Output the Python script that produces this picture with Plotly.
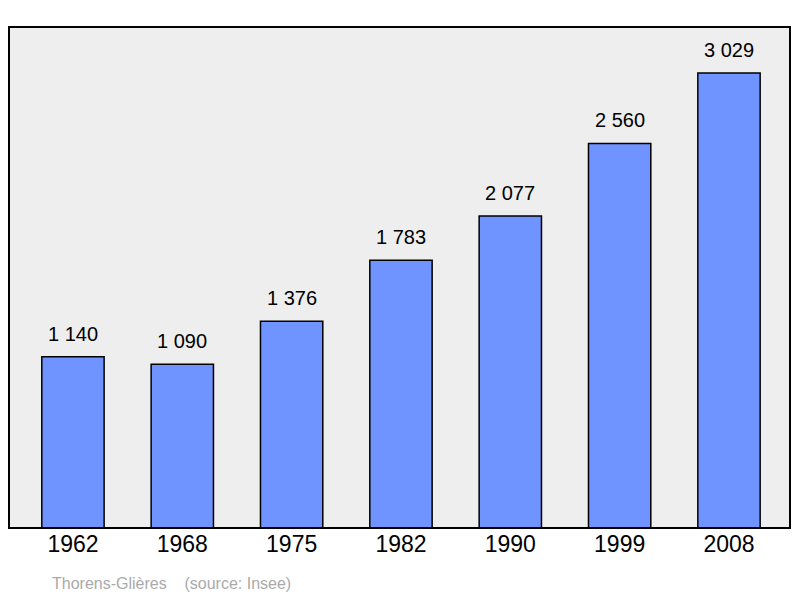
import plotly.graph_objects as go

years = ['1962', '1968', '1975', '1982', '1990', '1999', '2008']
population = [1140, 1090, 1376, 1783, 2077, 2560, 3029]
labels = ['1 140', '1 090', '1 376', '1 783', '2 077', '2 560', '3 029']

xpos = list(range(len(years)))

fig = go.Figure()
fig.add_trace(go.Bar(
    x=xpos,
    y=population,
    marker=dict(color='#7094ff', line=dict(color='black', width=1.5)),
    width=0.57,
))

# value labels above the bars
for xv, yv, lab in zip(xpos, population, labels):
    fig.add_annotation(x=xv, y=yv, text=lab, showarrow=False, yanchor='bottom',
                       yshift=10, font=dict(size=20, color='black'))

# page has an 8px body margin, so the figure is sized to fit 800x598
fig.update_layout(
    width=792, height=590,
    margin=dict(l=1, r=10, t=19, b=70),
    plot_bgcolor='#eeeeee',
    paper_bgcolor='white',
    showlegend=False,
    font=dict(family='Liberation Sans'),
    xaxis=dict(range=[-0.585, 6.558], tickvals=xpos, ticktext=years,
               tickfont=dict(size=23, color='black'), showgrid=False,
               zeroline=False, ticks=''),
    yaxis=dict(range=[0, 3335], showticklabels=False, showgrid=False,
               zeroline=False),
)

# plot frame
fig.add_shape(type='rect', xref='paper', yref='paper', x0=0, y0=0, x1=1, y1=1,
              line=dict(color='black', width=2))

fig.add_annotation(
    text='Thorens-Glières&nbsp;&nbsp;&nbsp;&nbsp;(source: Insee)',
    xref='paper', yref='paper', x=0.053, y=-0.11, xanchor='left', yanchor='middle',
    showarrow=False, font=dict(size=16, color='#aaaaaa'),
)

fig.write_html("out.html")
